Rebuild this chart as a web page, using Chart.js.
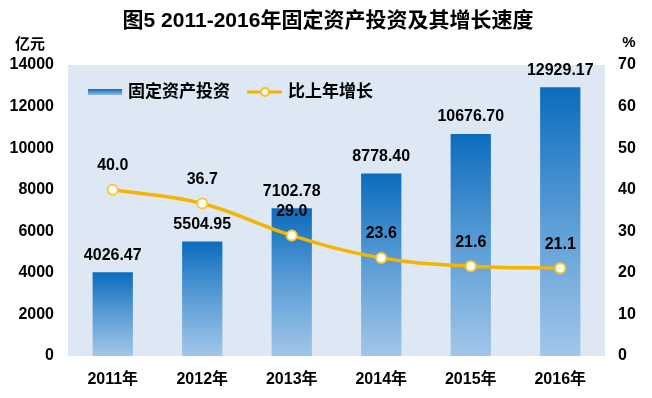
<!DOCTYPE html>
<html>
<head>
<meta charset="utf-8">
<script src="https://cdn.jsdelivr.net/npm/chart.js@4"></script>
<style>
  body { margin: 0; background: #fff; }
  #wrap { width: 652px; height: 398px; }
</style>
</head>
<body>
<div id="wrap"><canvas id="invest-chart" width="652" height="398"></canvas></div>
<script>
var years = ['2011年', '2012年', '2013年', '2014年', '2015年', '2016年'];
var investment = [4026.47, 5504.95, 7102.78, 8778.40, 10676.70, 12929.17];
var growth = [40.0, 36.7, 29.0, 23.6, 21.6, 21.1];
var leftTicks = [0, 2000, 4000, 6000, 8000, 10000, 12000, 14000];
var rightTicks = [0, 10, 20, 30, 40, 50, 60, 70];

var FONT = '"Liberation Sans", Arial, "Noto Sans CJK SC", sans-serif';

function barGradient(context) {
  var chart = context.chart;
  var area = chart.chartArea;
  if (!area || context.raw == null) return '#3f8fd0';
  var y = chart.scales.y;
  var top = y.getPixelForValue(context.raw);
  var bottom = y.getPixelForValue(0);
  var g = chart.ctx.createLinearGradient(0, top, 0, bottom);
  g.addColorStop(0, '#0b6cbd');
  g.addColorStop(0.5, '#5b9dd6');
  g.addColorStop(1, '#a2c6e8');
  return g;
}

function plainTick(value) {
  return String(value);
}

var extras = {
  id: 'extras',
  beforeDraw: function (chart) {
    var ctx = chart.ctx;
    var a = chart.chartArea;
    ctx.save();
    ctx.fillStyle = '#dde8f4';
    ctx.fillRect(a.left, a.top, a.right - a.left, a.bottom - a.top);
    ctx.restore();
  },
  afterDatasetsDraw: function (chart) {
    var ctx = chart.ctx;
    ctx.save();
    ctx.fillStyle = '#000';
    ctx.textAlign = 'center';
    ctx.textBaseline = 'middle';
    ctx.font = 'bold 16px ' + FONT;
    chart.getDatasetMeta(0).data.forEach(function (el, i) {
      ctx.fillText(investment[i].toFixed(2), el.x, el.y - 17);
    });
    chart.getDatasetMeta(1).data.forEach(function (el, i) {
      ctx.fillText(growth[i].toFixed(1), el.x, el.y - 24);
    });
    ctx.restore();
  },
  afterDraw: function (chart) {
    var ctx = chart.ctx;
    ctx.save();
    ctx.fillStyle = '#000';
    ctx.textBaseline = 'middle';

    // title
    ctx.textAlign = 'center';
    ctx.font = 'bold 21px ' + FONT;
    ctx.fillText('图5 2011-2016年固定资产投资及其增长速度', 328, 21);

    // axis units
    ctx.font = 'bold 15px ' + FONT;
    ctx.fillText('亿元', 30, 45);
    ctx.fillText('%', 629, 43);

    // legend
    var ly = 92;
    var g = ctx.createLinearGradient(0, ly - 3, 0, ly + 3);
    g.addColorStop(0, '#0b6cbd');
    g.addColorStop(1, '#8fbbe5');
    ctx.fillStyle = g;
    ctx.fillRect(88, ly - 3, 34, 6);
    ctx.fillStyle = '#000';
    ctx.textAlign = 'left';
    ctx.font = 'bold 17px ' + FONT;
    ctx.fillText(chart.data.datasets[0].label, 128, ly);

    ctx.strokeStyle = '#f4b400';
    ctx.lineWidth = 3;
    ctx.beginPath();
    ctx.moveTo(247, ly);
    ctx.lineTo(282, ly);
    ctx.stroke();
    ctx.beginPath();
    ctx.arc(265, ly, 4, 0, Math.PI * 2);
    ctx.fillStyle = '#fff';
    ctx.fill();
    ctx.lineWidth = 2;
    ctx.strokeStyle = '#f6c21a';
    ctx.stroke();
    ctx.fillStyle = '#000';
    ctx.fillText(chart.data.datasets[1].label, 288, ly);
    ctx.restore();
  }
};

var ctx = document.getElementById('invest-chart').getContext('2d');
var chart = new Chart(ctx, {
  type: 'bar',
  data: {
    labels: years,
    datasets: [
      {
        label: '固定资产投资',
        data: investment,
        yAxisID: 'y',
        backgroundColor: barGradient,
        borderWidth: 0,
        barPercentage: 0.45,
        categoryPercentage: 1,
        order: 1
      },
      {
        type: 'line',
        label: '比上年增长',
        data: growth,
        yAxisID: 'y1',
        borderColor: '#f4b400',
        borderWidth: 3.5,
        tension: 0.4,
        pointRadius: 5,
        pointBorderWidth: 2,
        pointBackgroundColor: '#ffffff',
        pointBorderColor: '#f8c934',
        fill: false,
        order: 0
      }
    ]
  },
  options: {
    responsive: false,
    animation: false,
    devicePixelRatio: 1,
    layout: { padding: { top: 65, left: 0, right: 0, bottom: 0 } },
    plugins: {
      legend: { display: false },
      tooltip: { enabled: false },
      title: { display: false }
    },
    scales: {
      x: {
        offset: true,
        grid: { display: false, drawTicks: false },
        border: { display: false },
        ticks: { color: '#000', font: { family: FONT, size: 16, weight: 'bold' }, padding: 14 },
        afterFit: function (scale) { scale.height = 42; }
      },
      y: {
        position: 'left',
        min: 0,
        max: 14000,
        grid: { display: false, drawTicks: false },
        border: { display: false },
        afterBuildTicks: function (scale) {
          scale.ticks = leftTicks.map(function (v) { return { value: v }; });
        },
        ticks: { color: '#000', font: { family: FONT, size: 16, weight: 'bold' }, padding: 14, callback: plainTick },
        afterFit: function (scale) { scale.width = 68; }
      },
      y1: {
        position: 'right',
        min: 0,
        max: 70,
        grid: { display: false, drawTicks: false },
        border: { display: false },
        afterBuildTicks: function (scale) {
          scale.ticks = rightTicks.map(function (v) { return { value: v }; });
        },
        ticks: { color: '#000', font: { family: FONT, size: 16, weight: 'bold' }, padding: 13, callback: plainTick },
        afterFit: function (scale) { scale.width = 47; }
      }
    }
  },
  plugins: [extras]
});
</script>
</body>
</html>
